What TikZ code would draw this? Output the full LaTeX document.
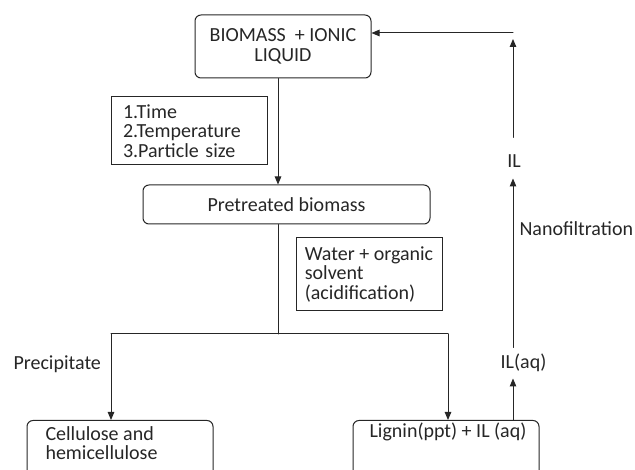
\documentclass[tikz,border=0pt]{standalone}
\usepackage{fontspec}
\setmainfont{Carlito}
\usetikzlibrary{arrows.meta}

\begin{document}
\begin{tikzpicture}
		[x=1pt,y=-1pt,line cap=round,line width=1pt,color=black!85,
		%Styles
		every node/.style={font=\fontsize{20}{19.5}\selectfont},
		process box/.style={draw,rounded corners=6pt,inner sep=0pt},
		info box/.style={draw,inner ysep=0pt,align=left},
		flow label/.style={inner sep=0pt},
		flow/.style={-{Triangle[length=8pt,width=6.5pt]}}
		]
		
		%Frame
		\path[use as bounding box,clip] (0,0) rectangle (635,470);
		
		%The graphic
		\node[process box,minimum width=176,minimum height=63,align=center] (biomass) at (283,46.5) {BIOMASS\ \ + IONIC\\LIQUID};
		\node[info box,inner xsep=12pt,text width=132,minimum height=68] (factors) at (189,131) {1.Time\\2.Temperature\\3.Particle size};
		\node[process box,minimum width=287,minimum height=39] (pretreated) at (286.5,204.5) {Pretreated biomass\hspace{18pt}};
		\node[info box,minimum width=146,minimum height=73] (solvent) at (369,274.5) {Water + organic\\solvent\\(acidification)};
		\node[process box,minimum width=186,minimum height=90,anchor=north] (cellulose) at (120,420) {};
		\node[flow label,anchor=north west,align=left] (celltext) at (45,426) {Cellulose and\\hemicellulose};
		\node[process box,minimum width=186,minimum height=90,anchor=north] (lignin) at (446,420) {};
		\node[flow label,anchor=north] (lignintext) at (448,422) {Lignin(ppt) + IL (aq)};
		
		%Labels
		\node[flow label,anchor=base west] (precipitate) at (13,370) {Precipitate};
		\node[flow label,anchor=base west] (nano) at (519,236) {Nanofiltration};
		\node[flow label,anchor=base,text height=30pt,text depth=10pt] (il) at (514,168) {IL};
		\node[flow label,anchor=base,text height=21pt,text depth=9pt] (ilaq) at (523.5,369) {IL(aq)};
		
		%Connectors
		\coordinate (split) at (278,334);
		\coordinate (leftdrop) at (111,334);
		\coordinate (rightdrop) at (448,334);
		\coordinate (recycle) at (513,33);
		\draw[flow] (biomass.south -| split) -- (pretreated.north -| split);
		\draw (pretreated.south -| split) -- (split);
		\draw (leftdrop) -- (rightdrop);
		\draw[flow] (leftdrop) -- (leftdrop |- cellulose.north);
		\draw[flow] (rightdrop) -- (rightdrop |- lignin.north);
		\draw[flow] (lignin.north -| recycle) -- (ilaq.south -| recycle);
		\draw[flow] (ilaq.north -| recycle) -- (il.south -| recycle);
		\draw[flow,shorten >=6pt] (il.north -| recycle) -- (recycle);
		\draw[flow] (recycle) -- (recycle -| biomass.east);
	\end{tikzpicture}
\end{document}
